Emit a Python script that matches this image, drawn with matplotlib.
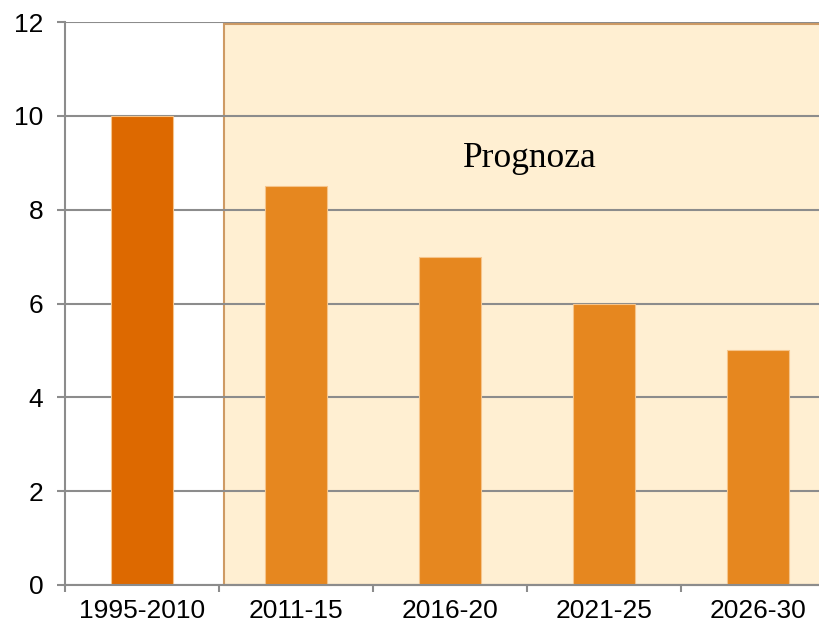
import matplotlib
matplotlib.use("Agg")
from matplotlib import pyplot as plt
from matplotlib.patches import Rectangle

# Data
categories = ["1995-2010", "2011-15", "2016-20", "2021-25", "2026-30"]
values = [10, 8.5, 7, 6, 5]
bar_colors = ["#DD6900", "#E6871F", "#E6871F", "#E6871F", "#E6871F"]
forecast_label = "Prognoza"

# Figure
fig = plt.figure(figsize = (8.19, 6.29), dpi = 100)
ax = fig.add_axes([65 / 819, 1 - 585 / 629, 770 / 819, 563 / 629])

x = list(range(len(categories)))
ax.bar(x, values, width = 0.4, color = bar_colors, edgecolor = "#F6C48A", linewidth = 0.8, zorder = 2)

# Forecast region
ax.add_patch(Rectangle((0.53, 0), 4.5, 11.95, facecolor = "#FFEFD2", edgecolor = "#CE9A64",
	linewidth = 1.5, zorder = 0.2, clip_on = False))
ax.text(2.52, 9.1, forecast_label, family = "Liberation Serif", fontsize = 25.5, ha = "center", va = "center")

# Axes
ax.set_xlim(-0.5, 4.5)
ax.set_ylim(0, 12)
ax.set_yticks(range(0, 13, 2))
ax.set_xticks(x)
ax.set_xticklabels(categories)
ax.set_xticks([i + 0.5 for i in range(-1, len(categories))], minor = True)
ax.tick_params(axis = "x", which = "major", length = 0, pad = 10)
ax.tick_params(axis = "x", which = "minor", length = 5, width = 1.5, color = "#8C8C8C")
ax.tick_params(axis = "y", length = 6, width = 1.5, color = "#8C8C8C", pad = 9.5)
for label in ax.get_xticklabels() + ax.get_yticklabels():
	label.set_family("Liberation Sans")
	label.set_fontsize(19)

ax.set_axisbelow(True)
ax.yaxis.grid(True, color = "#8C8C8C", linewidth = 1.5, zorder = 0.5)
for side in ["top", "right"]:
	ax.spines[side].set_visible(False)
for side in ["left", "bottom"]:
	ax.spines[side].set_color("#8C8C8C")
	ax.spines[side].set_linewidth(1.5)
ax.set_facecolor("white")

fig.savefig("out.png", dpi = 100)
